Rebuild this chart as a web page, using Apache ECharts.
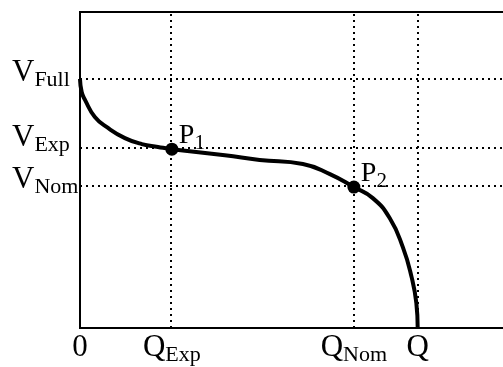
<!DOCTYPE html>
<html>
<head>
<meta charset="utf-8">
<script src="https://cdn.jsdelivr.net/npm/echarts@6/dist/echarts.min.js"></script>
<style>html,body{margin:0;padding:0;background:#fff;}#c{width:503px;height:367px;}</style>
</head>
<body>
<div id="c"></div>
<script>
// Capacity (x) marks, normalized so Q = 1
const xTicks = [0, 0.272, 0.811, 1];
const xTickMain = ['0', 'Q', 'Q', 'Q'];
const xTickSub = ['', 'Exp', 'Nom', ''];
// Voltage (y) marks, normalized to axis height
const yTicks = [0.788, 0.566, 0.446];
const yTickMain = ['V', 'V', 'V'];
const yTickSub = ['Full', 'Exp', 'Nom'];
// Discharge curve
const curveQ = [0, 0.005, 0.0148, 0.044, 0.083, 0.133, 0.183, 0.231, 0.272, 0.429, 0.532, 0.660, 0.740, 0.811, 0.867, 0.917, 0.956, 0.982, 0.996, 1];
const curveV = [0.788, 0.747, 0.722, 0.668, 0.633, 0.601, 0.582, 0.573, 0.566, 0.547, 0.532, 0.519, 0.487, 0.446, 0.411, 0.348, 0.256, 0.161, 0.079, 0];
// Characteristic points
const pointNames = ['1', '2'];
const pointQ = [0.272, 0.811];
const pointV = [0.566, 0.446];

const FONT = '"Liberation Serif", "Times New Roman", serif';
const chart = echarts.init(document.getElementById('c'), null, {renderer: 'canvas'});

function findIdx(arr, v) {
  let best = 0;
  for (let i = 1; i < arr.length; i++) if (Math.abs(arr[i] - v) < Math.abs(arr[best] - v)) best = i;
  return best;
}
const yStyleKey = ['F', 'E', 'N'];

const option = {
  backgroundColor: '#fff',
  animation: false,
  grid: {left: 80, right: -16, top: 12, bottom: 39, show: true, borderColor: '#000', borderWidth: 2, outerBoundsMode: 'none', containLabel: false},
  xAxis: {
    type: 'value', min: 0, max: 1.3,
    axisLine: {show: false}, axisTick: {show: false}, splitLine: {show: false},
    axisLabel: {
      customValues: xTicks, margin: 3, color: '#000', fontFamily: FONT, hideOverlap: false, interval: 0,
      formatter: function (v) {
        const i = findIdx(xTicks, v);
        return '{m|' + xTickMain[i] + '}' + (xTickSub[i] ? '{s|' + xTickSub[i] + '}' : '');
      },
      rich: {
        m: {fontSize: 31, fontFamily: FONT, color: '#000', lineHeight: 34},
        s: {fontSize: 22, fontFamily: FONT, color: '#000', lineHeight: 34, padding: [14, 0, 0, 0]}
      }
    }
  },
  yAxis: {
    type: 'value', min: 0, max: 1,
    axisLine: {show: false}, axisTick: {show: false}, splitLine: {show: false},
    axisLabel: {
      customValues: yTicks, margin: 68, align: 'left', verticalAlign: 'bottom', color: '#000', fontFamily: FONT,
      hideOverlap: false, interval: 0,
      formatter: function (v) {
        const i = findIdx(yTicks, v);
        const k = yStyleKey[i];
        return '{m' + k + '|' + yTickMain[i] + '}{s' + k + '|' + yTickSub[i] + '}';
      },
      rich: {
        mF: {fontSize: 31, fontFamily: FONT, color: '#000', lineHeight: 13},
        sF: {fontSize: 22, fontFamily: FONT, color: '#000', lineHeight: 13, padding: [15, 0, 0, 0]},
        mE: {fontSize: 31, fontFamily: FONT, color: '#000', lineHeight: 22},
        sE: {fontSize: 22, fontFamily: FONT, color: '#000', lineHeight: 22, padding: [15, 0, 0, 0]},
        mN: {fontSize: 31, fontFamily: FONT, color: '#000', lineHeight: 14},
        sN: {fontSize: 22, fontFamily: FONT, color: '#000', lineHeight: 14, padding: [15, 0, 0, 0]}
      }
    }
  },
  series: [
    {
      type: 'scatter', data: [], silent: true,
      markLine: {
        silent: true, symbol: ['none', 'none'], label: {show: false},
        lineStyle: {type: [2, 4], width: 2, color: '#000'},
        emphasis: {disabled: true},
        data: xTicks.slice(1).map(v => ({xAxis: v})).concat(yTicks.map(v => ({yAxis: v})))
      }
    },
    {
      type: 'line', silent: true, smooth: 0.5, showSymbol: false,
      lineStyle: {color: '#000', width: 4}, z: 3,
      data: curveQ.map((q, i) => [q, curveV[i]])
    },
    {
      type: 'scatter', silent: true, symbolSize: 13, z: 4,
      itemStyle: {color: '#000', opacity: 1},
      data: pointQ.map((q, i) => ({value: [q, pointV[i]], name: pointNames[i]})),
      label: {
        show: true, position: [13.5, -7], align: 'left', verticalAlign: 'middle', color: '#000', opacity: 1,
        formatter: function (p) { return '{p|P}{s|' + p.name + '}'; },
        rich: {
          p: {fontSize: 28, fontFamily: FONT, color: '#000', lineHeight: 30},
          s: {fontSize: 21, fontFamily: FONT, color: '#000', lineHeight: 30, padding: [16, 0, 0, 0]}
        }
      }
    }
  ]
};
chart.setOption(option);
</script>
</body>
</html>
